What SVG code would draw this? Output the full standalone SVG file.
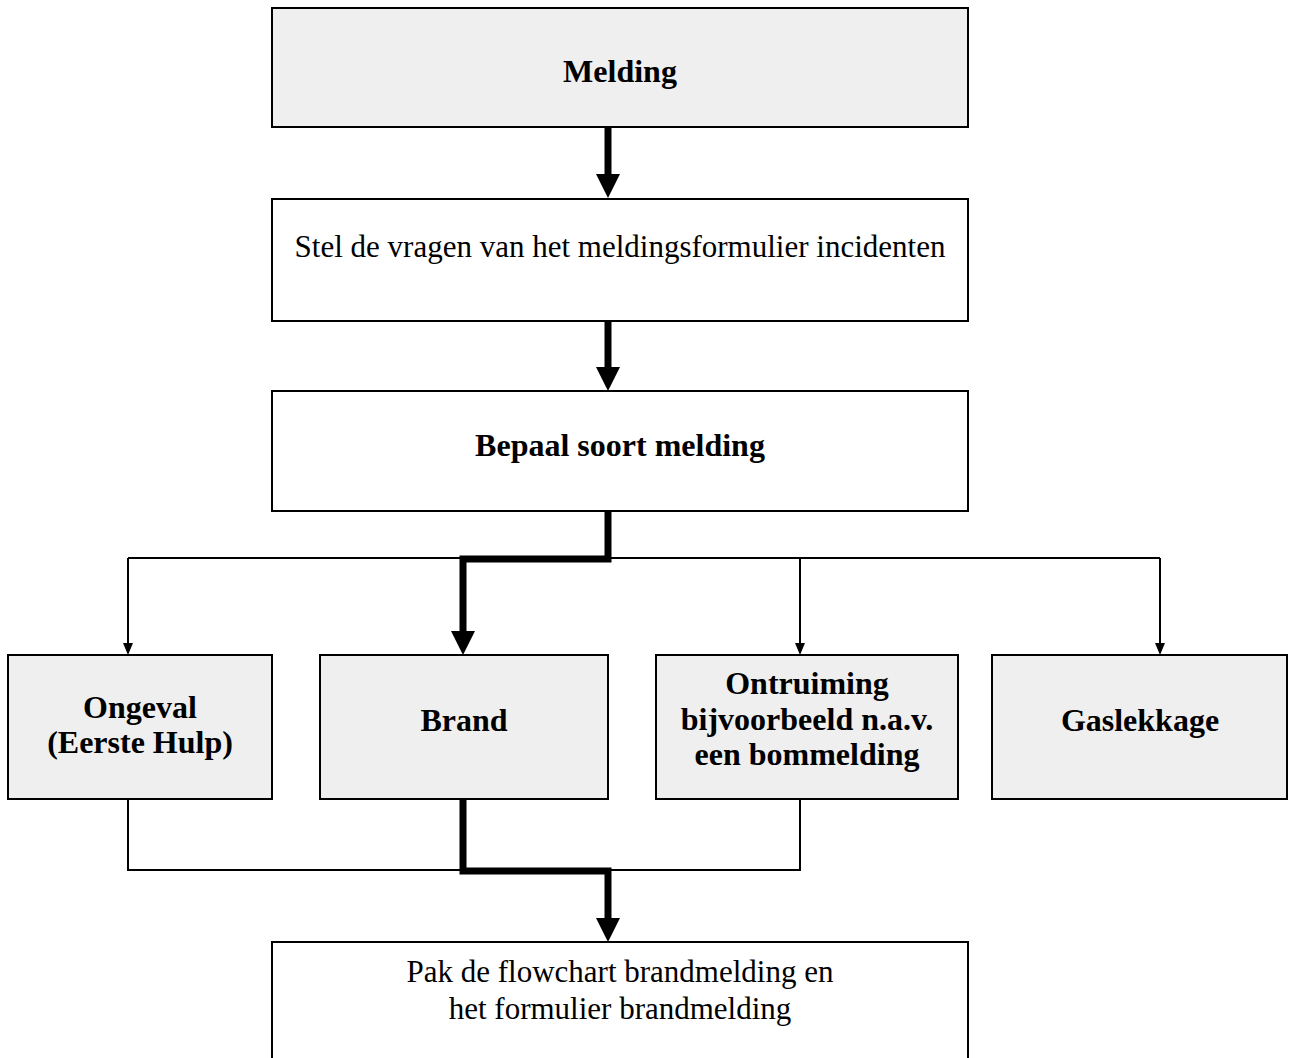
<svg xmlns="http://www.w3.org/2000/svg" width="1294" height="1058" viewBox="0 0 1294 1058">
  <style>
    .box { stroke: #000; stroke-width: 2; }
    .grey { fill: #efefef; }
    .white { fill: #ffffff; }
    .t { font-family: "Liberation Serif", "Times New Roman", serif; font-size: 31px; fill: #000; text-anchor: middle; }
    .b { font-family: "Liberation Serif", "Times New Roman", serif; font-size: 32px; font-weight: bold; fill: #000; text-anchor: middle; }
    .thick { fill: none; stroke: #000; stroke-width: 7; stroke-linejoin: miter; }
    .thin { fill: none; stroke: #000; stroke-width: 2; }
  </style>
  <defs>
    <marker id="bigArrow" markerUnits="userSpaceOnUse" markerWidth="24" markerHeight="24" viewBox="0 0 24 24" refX="0" refY="12" orient="auto">
      <path d="M0,0 L24,12 L0,24 Z" fill="#000"/>
    </marker>
    <marker id="smallArrow" markerUnits="userSpaceOnUse" markerWidth="12" markerHeight="10" viewBox="0 0 12 10" refX="0" refY="5" orient="auto">
      <path d="M0,0 L12,5 L0,10 Z" fill="#000"/>
    </marker>
  </defs>
  <rect width="1294" height="1058" fill="#ffffff"/>

  <g id="connectors">
    <path class="thick" d="M608,127 V174" marker-end="url(#bigArrow)"/>
    <path class="thick" d="M608,321 V367" marker-end="url(#bigArrow)"/>
    <path class="thin" d="M128,558 H1160"/>
    <path class="thin" d="M128,558 V643" marker-end="url(#smallArrow)"/>
    <path class="thin" d="M800,558 V643" marker-end="url(#smallArrow)"/>
    <path class="thin" d="M1160,558 V643" marker-end="url(#smallArrow)"/>
    <path class="thick" d="M608,511 V559 H463 V631" marker-end="url(#bigArrow)"/>
    <path class="thin" d="M128,799 V870 H800 V799"/>
    <path class="thick" d="M463,799 V871 H608 V918" marker-end="url(#bigArrow)"/>
  </g>

  <g id="melding">
    <rect class="box grey" x="272" y="8" width="696" height="119"/>
    <text class="b" x="620" y="82">Melding</text>
  </g>
  <g id="vragen">
    <rect class="box white" x="272" y="199" width="696" height="122"/>
    <text class="t" x="620" y="257">Stel de vragen van het meldingsformulier incidenten</text>
  </g>
  <g id="bepaal">
    <rect class="box white" x="272" y="391" width="696" height="120"/>
    <text class="b" x="620" y="456">Bepaal soort melding</text>
  </g>
  <g id="ongeval">
    <rect class="box grey" x="8" y="655" width="264" height="144"/>
    <text class="b" x="140" y="718">Ongeval</text>
    <text class="b" x="140" y="753">(Eerste Hulp)</text>
  </g>
  <g id="brand">
    <rect class="box grey" x="320" y="655" width="288" height="144"/>
    <text class="b" x="464" y="731">Brand</text>
  </g>
  <g id="ontruiming">
    <rect class="box grey" x="656" y="655" width="302" height="144"/>
    <text class="b" x="807" y="694">Ontruiming</text>
    <text class="b" x="807" y="730">bijvoorbeeld n.a.v.</text>
    <text class="b" x="807" y="765">een bommelding</text>
  </g>
  <g id="gaslekkage">
    <rect class="box grey" x="992" y="655" width="295" height="144"/>
    <text class="b" x="1140" y="731">Gaslekkage</text>
  </g>
  <g id="flowchart">
    <rect class="box white" x="272" y="942" width="696" height="130"/>
    <text class="t" x="620" y="982">Pak de flowchart brandmelding en</text>
    <text class="t" x="620" y="1019">het formulier brandmelding</text>
  </g>
</svg>
